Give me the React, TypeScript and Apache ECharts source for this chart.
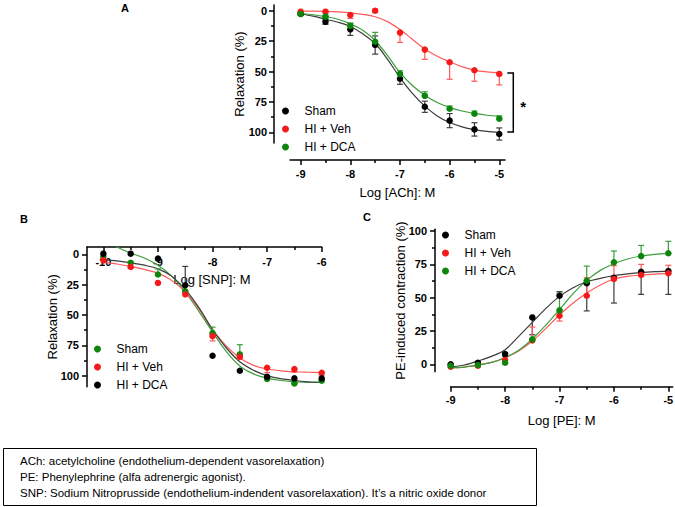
import { useEffect, useRef } from 'react';
import * as echarts from 'echarts';

const FONT = '"Liberation Sans", Arial, Helvetica, sans-serif';

const C_BLACK = '#000000';
const C_RED = '#f51a1a';
const C_GREEN = '#0b850b';
const L_BLACK = '#3c3c3c';
const L_RED = '#ff5a5a';
const L_GREEN = '#3a9e3a';

const legendNames = ['Sham', 'HI + Veh', 'HI + DCA'];

// ---------- Panel A : Log [ACh] ----------
const doseA = [-9, -8.5, -8, -7.5, -7, -6.5, -6, -5.5, -5];
const shamA = [2.7, 9, 15.3, 28.2, 56, 79, 90.4, 97.6, 101.4];
const shamAErrLo = [1, 2.2, 5, 7.5, 4.5, 4.6, 5.8, 5.5, 5];
const shamAErrHi = [1, 2.2, 5, 7.5, 4.5, 4.6, 5.8, 5.5, 5];
const vehA = [0.8, 0.8, 3.5, 0, 18, 32, 42.4, 49, 52];
const vehAErrLo = [0, 0, 0, 1.5, 0, 0, 0, 0, 0];
const vehAErrHi = [0.5, 1, 2.8, 1.5, 8, 8, 14, 9, 9];
const dcaA = [2.5, 4.9, 12.6, 25.5, 52, 70, 80.6, 84.7, 88.8];
const dcaAErrLo = [0.5, 1, 2.2, 7.7, 2.7, 3.3, 2.2, 2.2, 2.2];
const dcaAErrHi = [0, 0, 0, 0, 0, 0, 0, 0, 0];
const fitDoseA = [-9, -8.75, -8.5, -8.25, -8, -7.75, -7.5, -7.25, -7, -6.75, -6.5, -6.25, -6, -5.75, -5.5, -5.25, -5];
const shamAFit = [2.7, 4.5, 7, 9.5, 13, 19, 27, 40, 55, 68, 78.5, 86.5, 92, 95.5, 97.8, 99.3, 100.2];
const vehAFit = [0.3, 0.4, 0.6, 1, 1.7, 3, 5, 9, 15.5, 23.5, 31.5, 37.5, 42, 46, 48.8, 50.3, 51];
const dcaAFit = [2.3, 3.3, 4.8, 7, 10.8, 16, 24.5, 37, 51, 61.5, 69.5, 75.5, 79.5, 82.5, 84.5, 86, 86.7];
const xTicksA = [-9, -8, -7, -6, -5];
const xMinorA = [-8.5, -7.5, -6.5, -5.5];

// ---------- Panel B : Log [SNP] ----------
const doseB = [-10, -9.5, -9, -8.5, -8, -7.5, -7, -6.5, -6];
const shamB = [2, 7, 16.7, 30.5, 65, 82.5, 102.8, 106.4, 104.2];
const shamBErrLo = [0, 1, 4.7, 1, 5, 8, 0.5, 1, 1];
const shamBErrHi = [0, 0, 0, 0, 0, 0, 0, 0, 0];
const vehB = [5, 10.4, 23.6, 33, 67.4, 84.4, 93.5, 94.6, 97.6];
const vehBErrLo = [0, 0, 0, 0, 0, 0, 0, 0, 0];
const vehBErrHi = [0, 1, 0, 0, 4, 2, 4, 2.5, 2];
const dcaB = [-0.5, -0.5, 3.6, 25.5, 83.6, 96, 101, 102.2, 102.2];
const dcaBErrLo = [0, 0, 0, 15.5, 0, 0, 0, 0, 0];
const dcaBErrHi = [0, 0, 0, 0, 0, 0, 0, 0, 0];
const fitDoseB = [-10, -9.75, -9.5, -9.25, -9, -8.75, -8.5, -8.25, -8, -7.75, -7.5, -7.25, -7, -6.75, -6.5, -6.25, -6];
const shamBFit = [-13, -6, -1, 3, 9, 18, 31, 47, 64, 80, 92, 98.5, 102, 104, 105, 105.5, 105.5];
const vehBFit = [6.5, 8, 10, 12.5, 15.5, 21.5, 31, 45, 62, 75.5, 85.5, 91.5, 94.5, 96, 96.8, 97.2, 97.5];
const dcaBFit = [4.4, 5.5, 7, 9, 12, 18, 29, 44, 62, 77, 88.5, 95.5, 100, 102.5, 104, 105, 105.5];
const xTicksB = [-10, -9, -8, -7, -6];
const xMinorB = [-9.5, -8.5, -7.5, -6.5];

// ---------- Panel C : Log [PE] ----------
const doseC = [-9, -8.5, -8, -7.5, -7, -6.5, -6, -5.5, -5];
const shamC = [0, 1.25, 7.75, 35.2, 51.5, 60.8, 65, 69.5, 70];
const shamCErrLo = [0.5, 1, 2, 13, 0, 20.7, 19, 17, 17.5];
const shamCErrHi = [0.5, 1, 1, 0, 3, 0, 0, 0, 0];
const vehC = [-1.75, -1, 3.25, 18, 36.5, 51.5, 64, 67, 68.3];
const vehCErrLo = [0, 0, 0, 0, 4, 0, 0, 0, 0];
const vehCErrHi = [0, 0, 0, 10, 0, 13.5, 10, 8, 6];
const dcaC = [-1, -0.5, 1.25, 18.75, 40.5, 62.7, 76.5, 81.2, 83.3];
const dcaCErrLo = [0, 0, 0, 0, 0, 0, 0, 0, 0];
const dcaCErrHi = [0, 0, 0, 0, 13, 11, 8.5, 8, 9];
const fitDoseC = [-9, -8.75, -8.5, -8.25, -8, -7.75, -7.5, -7.25, -7, -6.75, -6.5, -6.25, -6, -5.75, -5.5, -5.25, -5];
const shamCFit = [-2, -0.5, 2.5, 6, 11, 21, 31.5, 42, 51, 57.5, 62, 64.5, 66.5, 67.8, 68.8, 69.5, 70];
const vehCFit = [-2.5, -2, -0.5, 1.5, 5, 10, 17.5, 27, 37, 46, 53.5, 59.5, 64, 66, 67, 67.7, 68.2];
const dcaCFit = [-2.5, -2, -0.5, 1.5, 5, 10.5, 19, 29.5, 41, 53, 63, 70.5, 75.5, 79, 81.3, 82.5, 83.3];
const xTicksC = [-9, -8, -7, -6, -5];
const xMinorC = [-8.5, -7.5, -6.5, -5.5];

const yTicks = [0, 25, 50, 75, 100];
const yMinor = [12.5, 37.5, 62.5, 87.5];

const noteLines = [
  'ACh: acetylcholine (endothelium-dependent vasorelaxation)',
  'PE: Phenylephrine (alfa adrenergic agonist).',
  "SNP: Sodium Nitroprusside (endothelium-indendent vasorelaxation). It\u2019s a nitric oxide donor",
];

// ---------- helpers ----------
const lineStyleAxis = { color: '#000', width: 1.5 };
const labelStyle = { fontFamily: FONT, fontSize: 11, fontWeight: 'bold', color: '#000' };
const nameStyle = { fontFamily: FONT, fontSize: 13, color: '#000' };

function axisPair(kind: 'x' | 'y', cfg: any) {
  const base = {
    type: 'value',
    gridIndex: cfg.grid,
    min: cfg.min,
    max: cfg.max,
    inverse: !!cfg.inverse,
    offset: cfg.offset || 0,
    position: cfg.position,
    splitLine: { show: false },
    nameMoveOverlap: false,
  };
  const major = {
    ...base,
    axisLine: { show: true, onZero: false, lineStyle: lineStyleAxis },
    axisTick: { show: true, inside: !!cfg.tickInside, customValues: cfg.major, length: 5, lineStyle: lineStyleAxis },
    axisLabel: {
      show: true,
      inside: !!cfg.labelInside,
      customValues: cfg.major,
      margin: cfg.margin,
      formatter: (v: number) => String(v),
      ...labelStyle,
    },
    name: cfg.name,
    nameLocation: 'middle',
    nameGap: cfg.nameGap,
    nameTextStyle: { ...nameStyle, ...(cfg.nameTextStyle || {}) },
  };
  const minor = {
    ...base,
    axisLine: { show: false, onZero: false },
    axisTick: { show: true, inside: !!cfg.tickInside, customValues: cfg.minor, length: 3, lineStyle: lineStyleAxis },
    axisLabel: { show: false },
  };
  return [major, minor];
}

function pts(x: number[], v: number[]) {
  return x.map((xi, i) => [xi, v[i]]);
}
function errs(x: number[], v: number[], lo: number[], hi: number[]) {
  return x.map((xi, i) => [xi, v[i] - lo[i], v[i] + hi[i]]).filter((d) => d[2] - d[1] > 0.05);
}

const renderErr = (_p: any, api: any) => {
  const x = api.value(0);
  const a = api.coord([x, api.value(1)]);
  const b = api.coord([x, api.value(2)]);
  const style = { stroke: api.visual('color'), lineWidth: 1.2 };
  return {
    type: 'group',
    children: [
      { type: 'line', shape: { x1: a[0], y1: a[1], x2: b[0], y2: b[1] }, style },
      { type: 'line', shape: { x1: a[0] - 3, y1: a[1], x2: a[0] + 3, y2: a[1] }, style },
      { type: 'line', shape: { x1: b[0] - 3, y1: b[1], x2: b[0] + 3, y2: b[1] }, style },
    ],
  };
};

function group(name: string, ax: number, x: number[], v: number[], lo: number[], hi: number[], fx: number[], fv: number[], color: string, lcolor: string) {
  return [
    {
      type: 'line',
      name: name + ' fit ' + ax,
      xAxisIndex: ax,
      yAxisIndex: ax,
      data: pts(fx, fv),
      smooth: 0.35,
      symbol: 'none',
      clip: true,
      lineStyle: { color: lcolor, width: 1.2 },
      z: 2,
      silent: true,
    },
    {
      type: 'custom',
      name: name + ' sem ' + ax,
      xAxisIndex: ax,
      yAxisIndex: ax,
      data: errs(x, v, lo, hi),
      encode: { x: 0, y: [1, 2] },
      renderItem: renderErr,
      itemStyle: { color: lcolor },
      z: 3,
      silent: true,
    },
    {
      type: 'scatter',
      name,
      xAxisIndex: ax,
      yAxisIndex: ax,
      data: pts(x, v),
      symbol: 'circle',
      symbolSize: 6.5,
      itemStyle: { color, opacity: 1 },
      z: 4,
      silent: true,
    },
  ];
}

function legend(left: number, top: number, colors: string[]) {
  return {
    left,
    top,
    orient: 'vertical',
    icon: 'circle',
    itemWidth: 24,
    itemHeight: 7,
    itemGap: 4,
    selectedMode: false,
    padding: 0,
    textStyle: { fontFamily: FONT, fontSize: 12, color: '#000', lineHeight: 14, padding: [0, 0, 0, 2] },
    data: legendNames.map((n, i) => ({ name: n, itemStyle: { color: colors[i] } })),
  };
}

const option: any = {
  animation: false,
  backgroundColor: '#ffffff',
  grid: [
    { left: 290, top: 5, width: 215, height: 138, outerBoundsMode: 'none', containLabel: false },
    { left: 87, top: 247, width: 234.7, height: 139.7, outerBoundsMode: 'none', containLabel: false },
    { left: 450.7, top: 229.3, width: 222, height: 142.4, outerBoundsMode: 'none', containLabel: false },
  ],
  xAxis: [
    ...axisPair('x', { grid: 0, min: -9.215, max: -4.885, offset: 17, position: 'bottom', major: xTicksA, minor: xMinorA, margin: 8, name: 'Log [ACh]: M', nameGap: 26 }),
    ...axisPair('x', { grid: 1, min: -10.3, max: -6, offset: 0, position: 'top', major: xTicksB, minor: xMinorB, margin: 9, labelInside: true, tickInside: true, name: 'Log [SNP]: M', nameGap: -39, nameTextStyle: { padding: [0, 0, 0, 15] } }),
    ...axisPair('x', { grid: 2, min: -9, max: -4.92, offset: 15, position: 'bottom', major: xTicksC, minor: xMinorC, margin: 8, name: 'Log [PE]: M', nameGap: 27 }),
  ],
  yAxis: [
    ...axisPair('y', { grid: 0, min: -4.7, max: 108.8, inverse: true, offset: 16, position: 'left', major: yTicks, minor: yMinor, margin: 7, name: 'Relaxation (%)', nameGap: 28 }),
    ...axisPair('y', { grid: 1, min: -6, max: 109.1, inverse: true, offset: 0, position: 'left', major: yTicks, minor: yMinor, margin: 8, name: 'Relaxation (%)', nameGap: 28 }),
    ...axisPair('y', { grid: 2, min: -5.5, max: 101.3, inverse: false, offset: 15.7, position: 'left', major: yTicks, minor: yMinor, margin: 8, name: 'PE-induced contraction (%)', nameGap: 28 }),
  ],
  legend: [
    legend(282, 104, [C_BLACK, C_RED, C_GREEN]),
    legend(94, 342, [C_GREEN, C_RED, C_BLACK]),
    legend(442, 228, [C_BLACK, C_RED, C_GREEN]),
  ],
  graphic: [
    { type: 'text', x: 125, y: 8, style: { text: 'A', fontFamily: FONT, fontSize: 11, fontWeight: 'bold', fill: '#000', align: 'center', verticalAlign: 'middle' } },
    { type: 'text', x: 24, y: 219, style: { text: 'B', fontFamily: FONT, fontSize: 11, fontWeight: 'bold', fill: '#000', align: 'center', verticalAlign: 'middle' } },
    { type: 'text', x: 367, y: 217, style: { text: 'C', fontFamily: FONT, fontSize: 11, fontWeight: 'bold', fill: '#000', align: 'center', verticalAlign: 'middle' } },
    { type: 'rect', shape: { x: 3.5, y: 448.5, width: 533, height: 57 }, style: { fill: 'none', stroke: '#000', lineWidth: 1 } },
    ...noteLines.map((t, i) => ({
      type: 'text',
      x: 20,
      y: 461 + i * 16,
      style: { text: t, fontFamily: FONT, fontSize: 11.5, fill: '#000', align: 'left', verticalAlign: 'middle' },
    })),
  ],
  series: [
    ...group('Sham', 0, doseA, shamA, shamAErrLo, shamAErrHi, fitDoseA, shamAFit, C_BLACK, L_BLACK),
    ...group('HI + Veh', 0, doseA, vehA, vehAErrLo, vehAErrHi, fitDoseA, vehAFit, C_RED, L_RED),
    ...group('HI + DCA', 0, doseA, dcaA, dcaAErrLo, dcaAErrHi, fitDoseA, dcaAFit, C_GREEN, L_GREEN),
    ...group('Sham', 2, doseB, shamB, shamBErrLo, shamBErrHi, fitDoseB, shamBFit, C_GREEN, L_GREEN),
    ...group('HI + Veh', 2, doseB, vehB, vehBErrLo, vehBErrHi, fitDoseB, vehBFit, C_RED, L_RED),
    ...group('HI + DCA', 2, doseB, dcaB, dcaBErrLo, dcaBErrHi, fitDoseB, dcaBFit, C_BLACK, L_BLACK),
    ...group('Sham', 4, doseC, shamC, shamCErrLo, shamCErrHi, fitDoseC, shamCFit, C_BLACK, L_BLACK),
    ...group('HI + Veh', 4, doseC, vehC, vehCErrLo, vehCErrHi, fitDoseC, vehCFit, C_RED, L_RED),
    ...group('HI + DCA', 4, doseC, dcaC, dcaCErrLo, dcaCErrHi, fitDoseC, dcaCFit, C_GREEN, L_GREEN),
    {
      type: 'custom',
      name: 'bracket',
      xAxisIndex: 0,
      yAxisIndex: 0,
      clip: false,
      silent: true,
      z: 5,
      data: [[doseA[doseA.length - 1], vehA[vehA.length - 1], shamA[shamA.length - 1]]],
      encode: { x: 0, y: [1, 2] },
      renderItem: (_p: any, api: any) => {
        const t = api.coord([api.value(0), api.value(1)]);
        const b = api.coord([api.value(0), api.value(2)]);
        const xl = t[0] + 8;
        const xr = t[0] + 14;
        return {
          type: 'group',
          children: [
            { type: 'polyline', shape: { points: [[xl, t[1] - 1], [xr, t[1] - 1], [xr, b[1] - 2], [xl, b[1] - 2]] }, style: { fill: 'none', stroke: '#000', lineWidth: 1.5 } },
            { type: 'text', x: xr + 10, y: (t[1] + b[1]) / 2 + 3, style: { text: '*', fontFamily: FONT, fontSize: 15, fontWeight: 'bold', fill: '#000', align: 'center', verticalAlign: 'middle' } },
          ],
        };
      },
    },
  ],
};

export default function App() {
  const ref = useRef<HTMLDivElement>(null);
  useEffect(() => {
    if (!ref.current) return;
    const chart = echarts.init(ref.current, null, { renderer: 'svg' });
    chart.setOption(option);
    return () => chart.dispose();
  }, []);
  return (
    <div
      ref={ref}
      style={{ position: 'absolute', left: 0, top: 0, width: 675, height: 507, background: '#fff' }}
    />
  );
}
